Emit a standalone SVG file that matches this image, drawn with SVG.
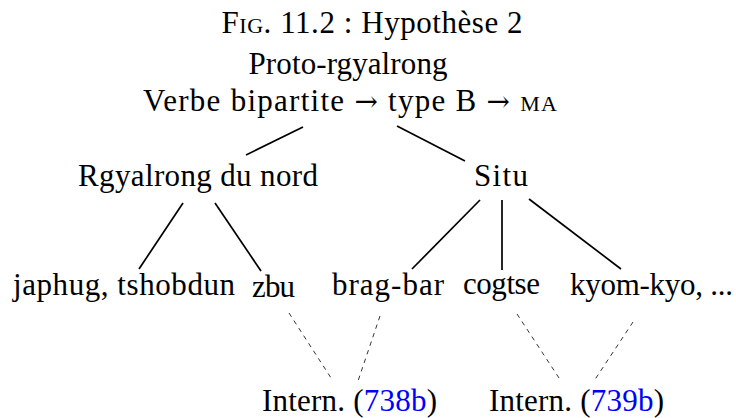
<svg xmlns="http://www.w3.org/2000/svg" width="736" height="418" viewBox="0 0 736 418">
<style>
text{font-family:"Liberation Serif","Times New Roman",serif;font-size:31px;fill:#000;text-anchor:middle}
.sc{font-variant:small-caps}
.ar{font-family:"DejaVu Serif",serif;font-size:28px}
.ref{fill:#0000ff}
.solid{stroke:#000;stroke-width:1.7;fill:none}
.dash{stroke:#000;stroke-width:0.8;stroke-dasharray:4.5 4.5;fill:none}
</style>
<rect width="736" height="418" fill="#fff"/>
<g id="title"><text x="372" y="33" textLength="301">F<tspan class="sc">ig</tspan>. 11.2 : Hypothèse 2</text></g>
<g id="root">
<text x="348" y="74" textLength="199">Proto-rgyalrong</text>
<text x="350" y="111" textLength="414">Verbe bipartite <tspan class="ar">→</tspan> type B <tspan class="ar">→</tspan> <tspan class="sc">ma</tspan></text>
</g>
<g id="nord"><text x="198" y="186" textLength="240">Rgyalrong du nord</text></g>
<g id="situ"><text x="501" y="186" textLength="54">Situ</text></g>
<g id="japhug"><text x="124" y="295" textLength="222">japhug, tshobdun</text></g>
<g id="zbu"><text x="273.5" y="297" textLength="43">zbu</text></g>
<g id="bragbar"><text x="388" y="295" textLength="112">brag-bar</text></g>
<g id="cogtse"><text x="501.5" y="294" textLength="77">cogtse</text></g>
<g id="kyomkyo"><text x="651.5" y="295" textLength="163">kyom-kyo, ...</text></g>
<g id="intern1"><text x="349.5" y="411" textLength="175">Intern. (<tspan class="ref">738b</tspan>)</text></g>
<g id="intern2"><text x="576.5" y="411" textLength="175">Intern. (<tspan class="ref">739b</tspan>)</text></g>
<g id="connectors">
<line class="solid" x1="303" y1="127" x2="246" y2="155"/>
<line class="solid" x1="397" y1="126" x2="465" y2="161"/>
<line class="solid" x1="183" y1="203" x2="139" y2="269"/>
<line class="solid" x1="215" y1="203" x2="261" y2="271"/>
<line class="solid" x1="480" y1="200" x2="412" y2="269"/>
<line class="solid" x1="502" y1="200" x2="502" y2="270"/>
<line class="solid" x1="529" y1="199" x2="621" y2="269"/>
<line class="dash" x1="289" y1="313" x2="333" y2="381"/>
<line class="dash" x1="380" y1="316" x2="358" y2="381"/>
<line class="dash" x1="517" y1="314" x2="561" y2="381"/>
<line class="dash" x1="633" y1="322" x2="594" y2="381"/>
</g>
</svg>
